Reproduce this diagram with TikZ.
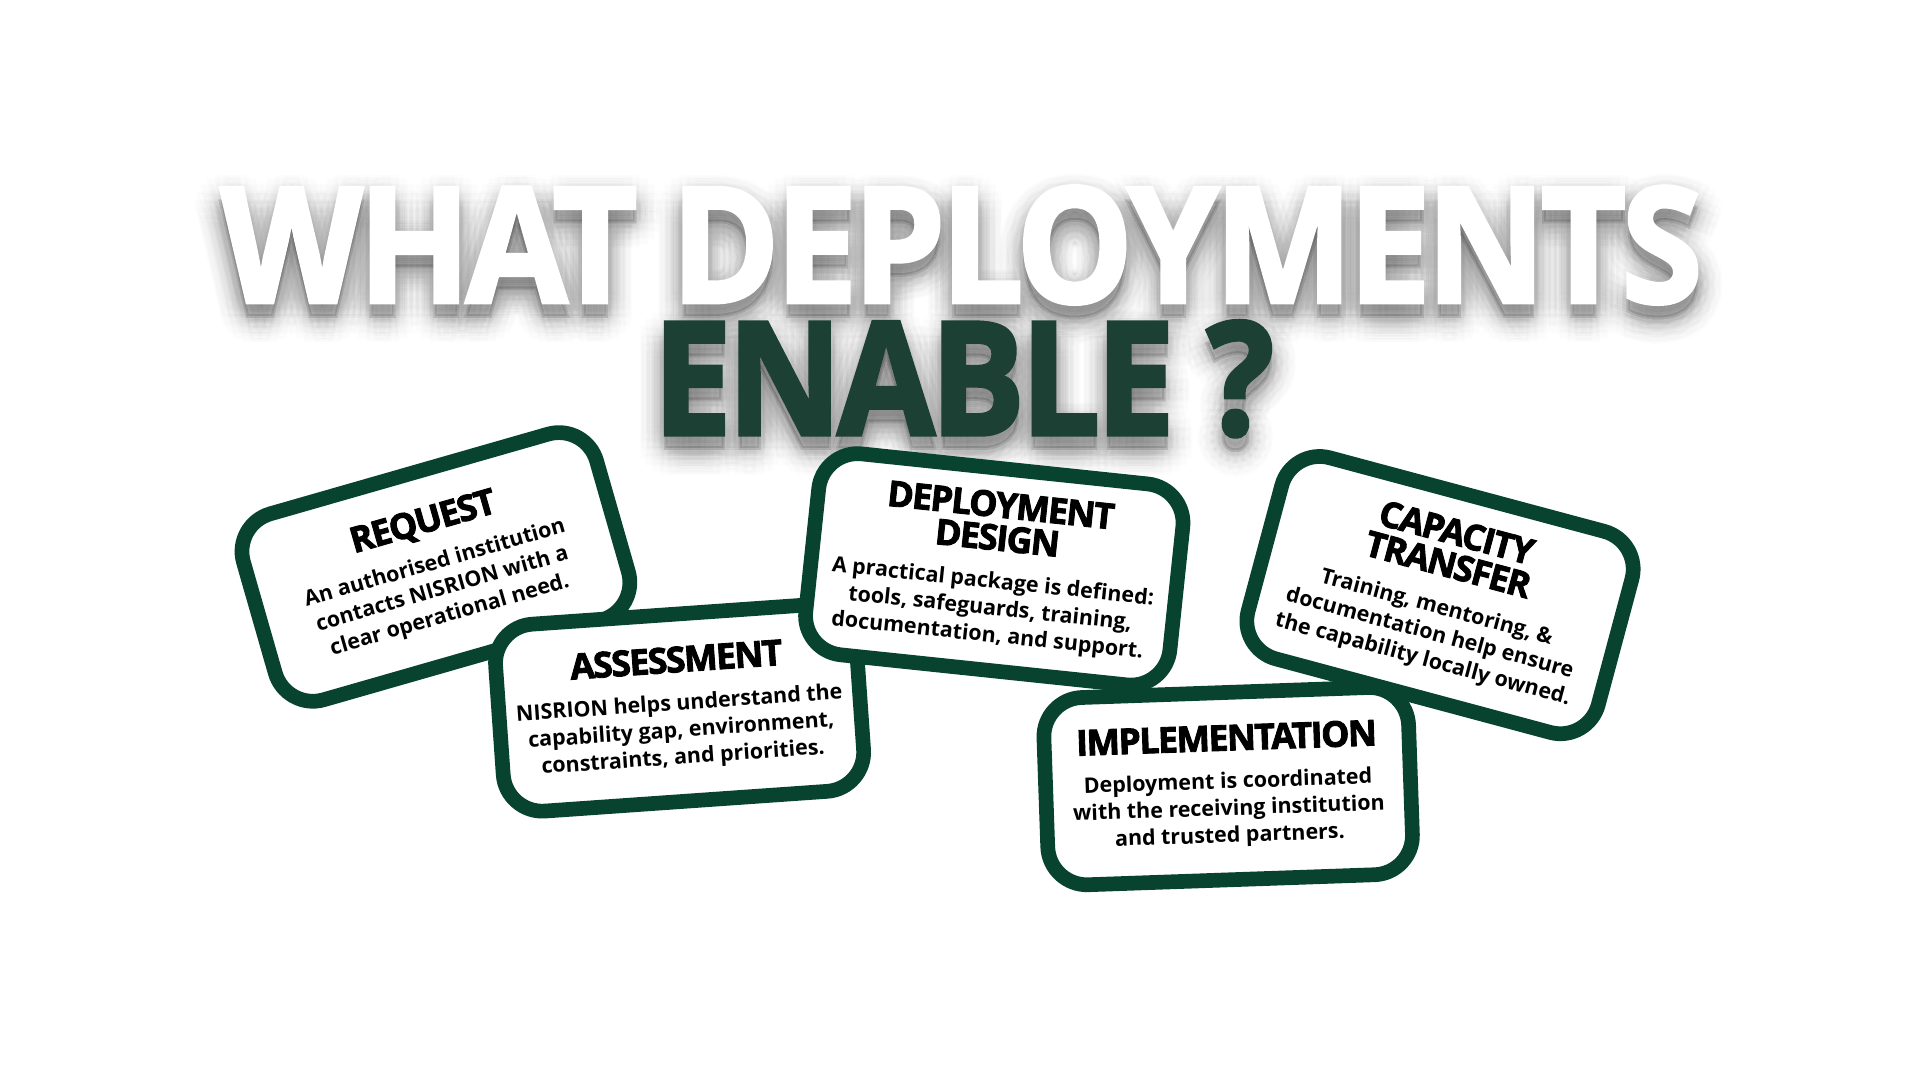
\documentclass[tikz,border=0pt]{standalone}
\usepackage{fontspec}
\setmainfont{Open Sans}
\newfontfamily\heavy{Open Sans}[BoldFeatures={FakeBold=2.5}]
\definecolor{cardgreen}{HTML}{07432F}
\definecolor{titlegreen}{HTML}{1C4033}

\newcommand{\whatline}{\resizebox{1210pt}{95pt}{\heavy\bfseries\addfontfeature{LetterSpace=-3}WHAT DEPLOYMENTS}}
\newcommand{\enableline}{\resizebox{507pt}{93pt}{\heavy\bfseries\addfontfeature{LetterSpace=-3}ENABLE ?}}
\newcommand{\cardtext}[2]{\parbox{290pt}{\centering
	{\fontsize{29}{27}\heavy\bfseries\addfontfeature{LetterSpace=-4}#1\par}\vspace{9pt}
	{\fontsize{17.5}{22}\selectfont\bfseries #2\par}}}

\tikzset{
	titletext/.style={anchor=base west, inner sep=0pt},
	card/.style={draw=cardgreen, line width=12pt, fill=white, rounded corners=32pt, inner sep=0pt, text=black},
}

\begin{document}
\begin{tikzpicture}[x=1pt, y=-1pt]
		\useasboundingbox (0,0) rectangle (1568,882);
		
		% ombra del títol
		\foreach \r in {0,5,10,15,20}
		\foreach \a in {0,20,...,340}
		{
			\node[titletext, text=black, opacity=0.008] at ({180+\r*cos(\a)},{258+\r*sin(\a)}) {\whatline};
			\node[titletext, text=black, opacity=0.008] at ({533+\r*cos(\a)},{366+\r*sin(\a)}) {\enableline};
		}
		
		% títol
		\node[titletext, text=white] (what) at (180,247) {\whatline};
		\node[titletext, text=titlegreen] (enable) at (533,355) {\enableline};
		
		% targetes
		\node[card, rotate=16, minimum width=300, minimum height=158] (request) at (356,463)
		{\cardtext{REQUEST}{An authorised institution\\contacts NISRION with a\\clear operational need.}};
		\node[card, rotate=4, minimum width=295, minimum height=153] (assessment) at (555,578)
		{\cardtext{ASSESSMENT}{NISRION helps understand the\\capability gap, environment,\\constraints, and priorities.}};
		\node[card, rotate=-6, minimum width=299, minimum height=165] (design) at (812,465)
		{\cardtext{DEPLOYMENT\\DESIGN}{A practical package is defined:\\tools, safeguards, training,\\documentation, and support.}};
		\node[card, rotate=-15, minimum width=296, minimum height=170] (capacity) at (1176,486)
		{\cardtext{CAPACITY\\TRANSFER}{Training, mentoring, \&\\documentation help ensure\\the capability locally owned.}};
		\node[card, rotate=2, minimum width=298, minimum height=153] (implementation) at (1003,642)
		{\cardtext{IMPLEMENTATION}{Deployment is coordinated\\with the receiving institution\\and trusted partners.}};
	\end{tikzpicture}
\end{document}
